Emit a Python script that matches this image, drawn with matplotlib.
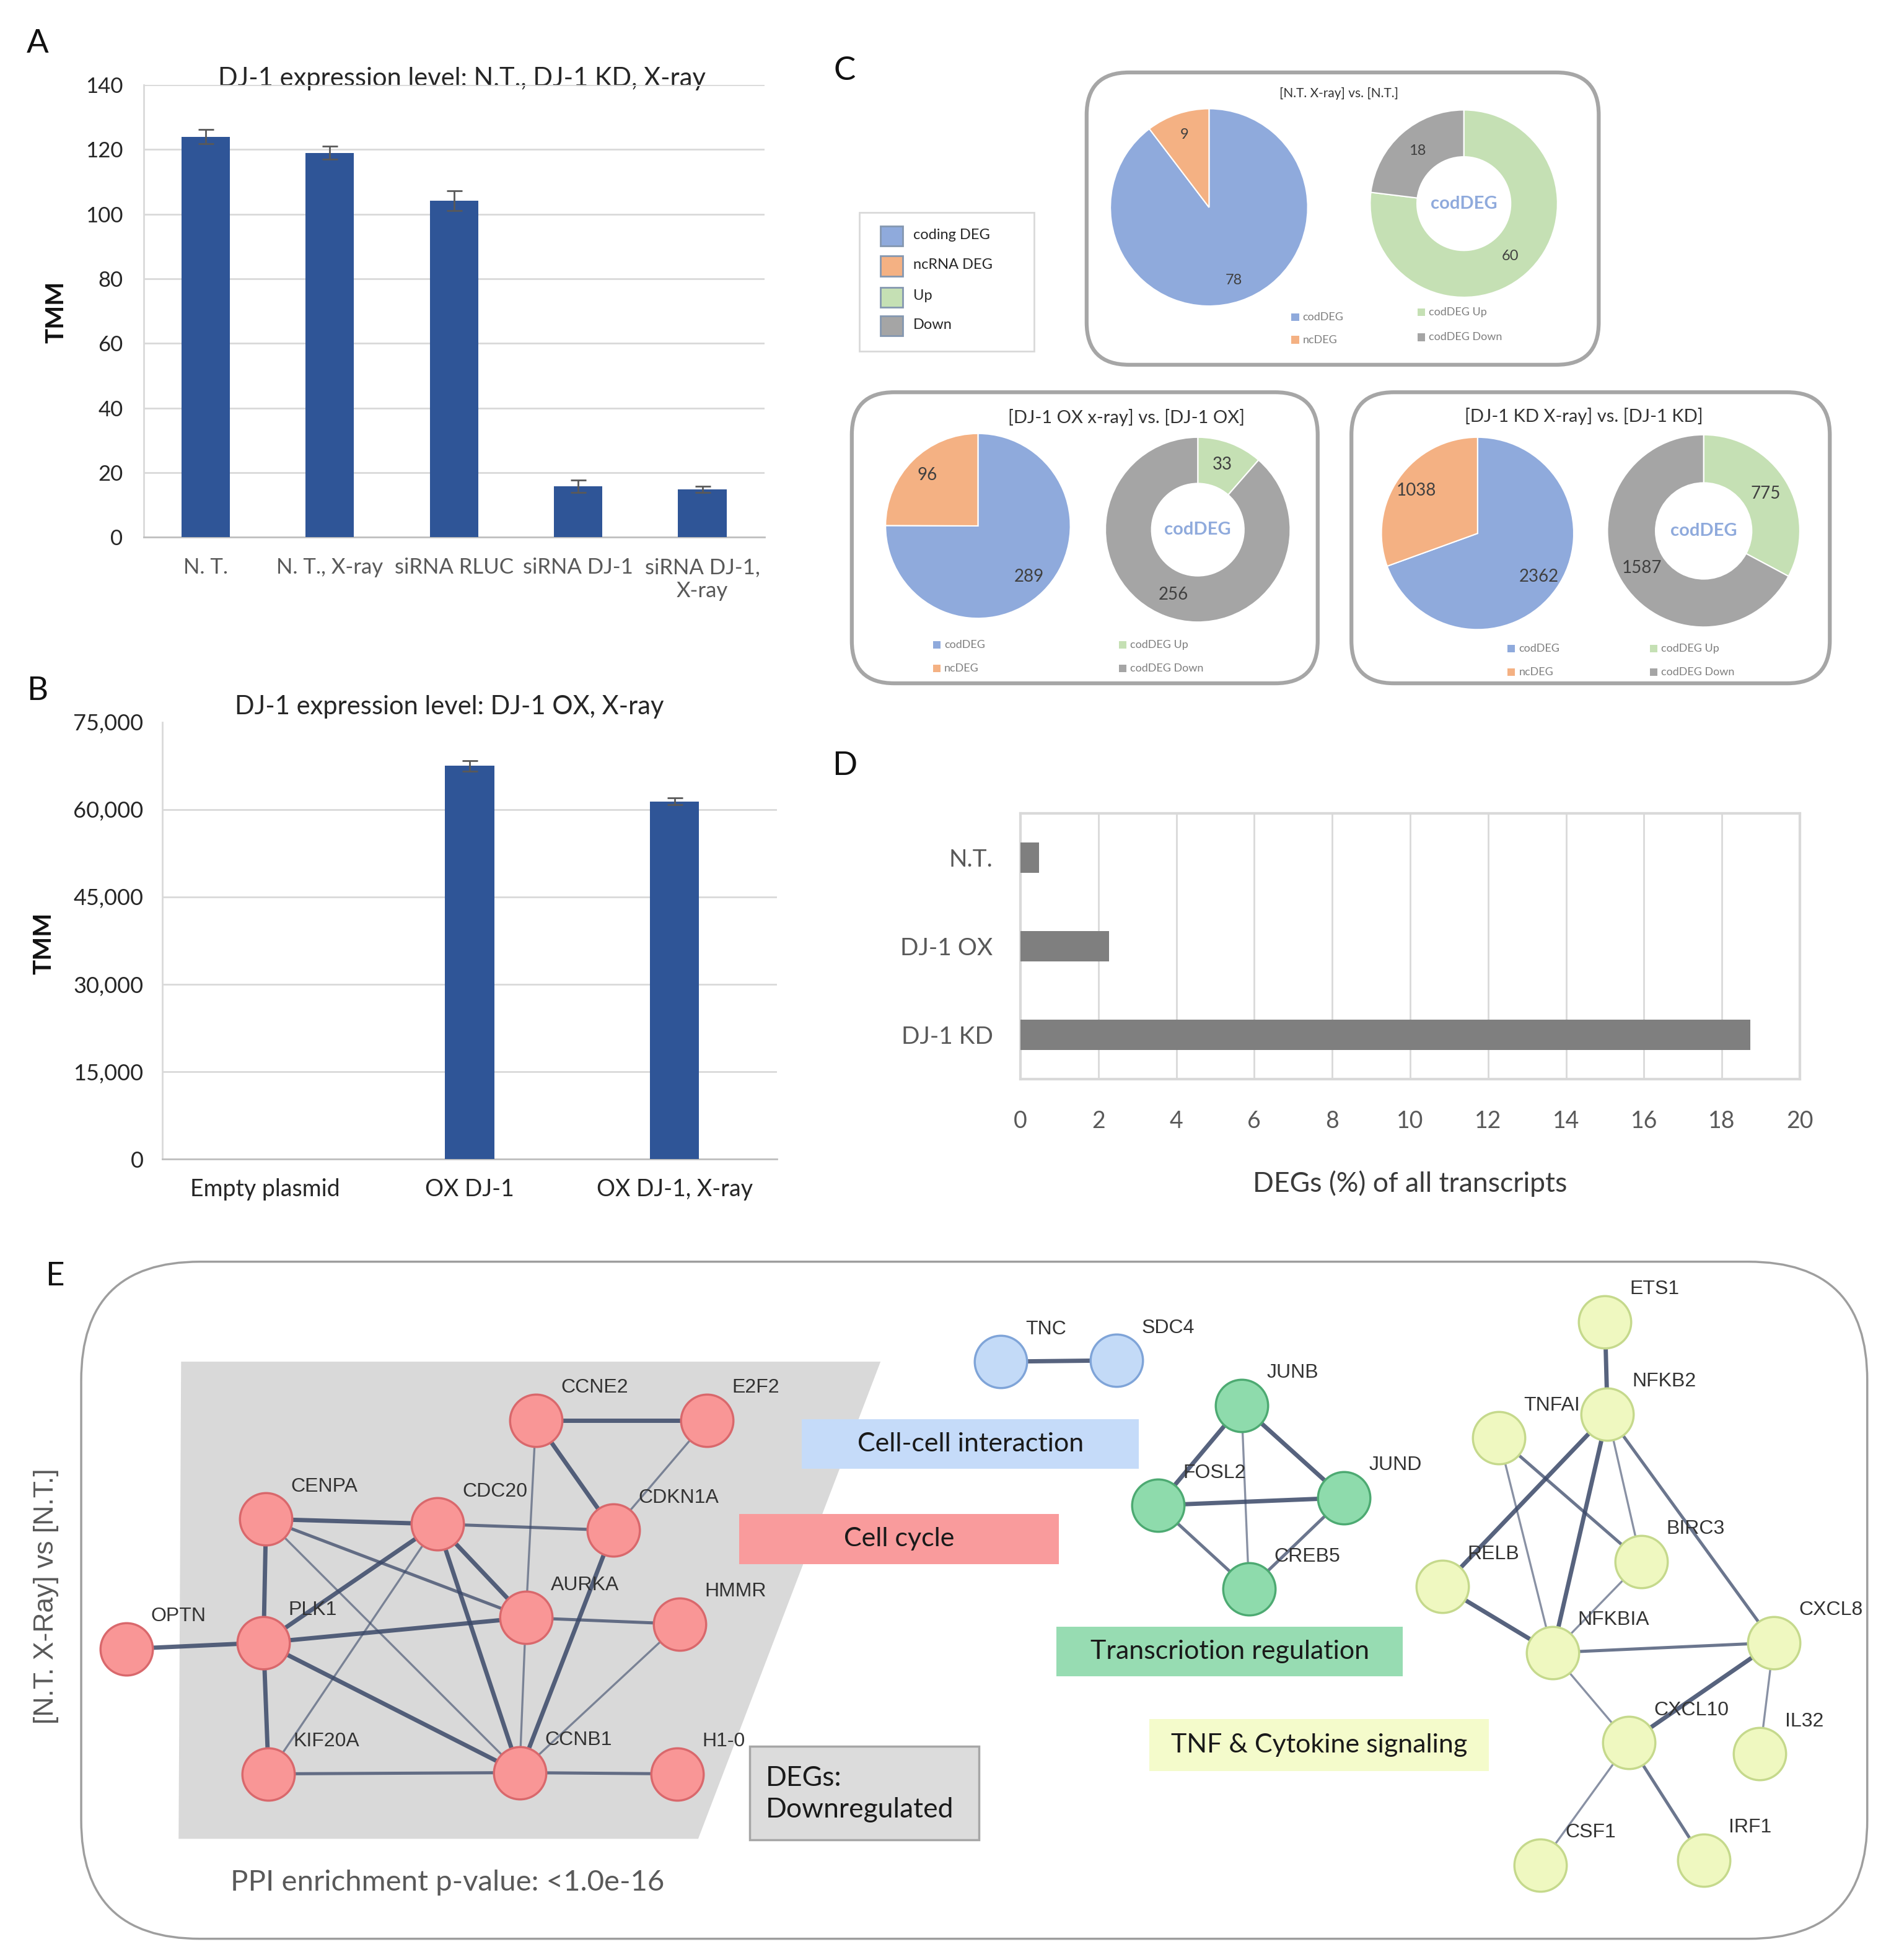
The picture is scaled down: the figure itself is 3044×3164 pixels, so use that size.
import numpy as np
import matplotlib
matplotlib.use('Agg')
import matplotlib.pyplot as plt
from matplotlib.patches import FancyBboxPatch, Rectangle, Polygon

plt.rcParams['font.family'] = ['Lato', 'DejaVu Sans']

# ---- panel A: DJ-1 TMM, knock-down
a_groups = ['N. T.', 'N. T., X-ray', 'siRNA RLUC', 'siRNA DJ-1', 'siRNA DJ-1,\nX-ray']
a_tmm = [124.0, 119.0, 104.2, 15.7, 14.8]
a_err = [2.2, 2.0, 3.1, 1.9, 0.9]

# ---- panel B: DJ-1 TMM, over-expression
b_groups = ['Empty plasmid', 'OX DJ-1', 'OX DJ-1, X-ray']
b_tmm = [0, 67500, 61400]
b_err = [0, 900, 600]

# ---- panel C: DEG counts per comparison
c_titles = ['[N.T. X-ray] vs. [N.T.]', '[DJ-1 OX x-ray] vs. [DJ-1 OX]', '[DJ-1 KD X-ray] vs. [DJ-1 KD]']
c_coding = [78, 289, 2362]
c_ncrna = [9, 96, 1038]
c_up = [60, 33, 775]
c_down = [18, 256, 1587]

# ---- panel D: DEGs as % of all transcripts
d_groups = ['N.T.', 'DJ-1 OX', 'DJ-1 KD']
d_pct = [0.47, 2.27, 18.73]

# ---- panel E: STRING network (layout in page units)
e_genes = ['OPTN', 'PLK1', 'CENPA', 'CDC20', 'CCNE2', 'E2F2', 'CDKN1A', 'AURKA', 'HMMR',
           'KIF20A', 'CCNB1', 'H1-0',
           'TNC', 'SDC4',
           'JUNB', 'FOSL2', 'JUND', 'CREB5',
           'ETS1', 'NFKB2', 'TNFAI', 'BIRC3', 'RELB', 'NFKBIA', 'CXCL8', 'CXCL10', 'IL32', 'CSF1', 'IRF1']
e_x = [101, 211, 213, 350, 429, 566, 491, 421, 544, 215, 416, 542,
       801, 894,
       994, 927, 1076, 1000,
       1285, 1287, 1200, 1314, 1155, 1243, 1420, 1304, 1409, 1233, 1364]
e_y = [1320, 1315, 1216, 1220, 1137, 1137, 1225, 1295, 1300, 1420, 1419, 1420,
       1090, 1089,
       1125, 1205, 1199, 1272,
       1058, 1132, 1151, 1250, 1270, 1323, 1315, 1395, 1404, 1493, 1489]
e_group = ['cycle'] * 12 + ['cell'] * 2 + ['tf'] * 4 + ['tnf'] * 11
e_edges = [('OPTN', 'PLK1', 3), ('PLK1', 'CENPA', 3), ('PLK1', 'KIF20A', 3), ('PLK1', 'CDC20', 3),
           ('PLK1', 'AURKA', 3), ('PLK1', 'CCNB1', 3), ('CENPA', 'CDC20', 3), ('CENPA', 'AURKA', 2),
           ('CENPA', 'CCNB1', 1), ('CDC20', 'CDKN1A', 2), ('CDC20', 'AURKA', 3), ('CDC20', 'CCNB1', 3),
           ('CDC20', 'KIF20A', 1), ('CCNE2', 'E2F2', 3), ('CCNE2', 'CDKN1A', 3), ('CCNE2', 'AURKA', 1),
           ('E2F2', 'CDKN1A', 1), ('CDKN1A', 'CCNB1', 3), ('AURKA', 'HMMR', 2), ('AURKA', 'CCNB1', 1),
           ('HMMR', 'CCNB1', 1), ('KIF20A', 'CCNB1', 2), ('CCNB1', 'H1-0', 2),
           ('TNC', 'SDC4', 3),
           ('JUNB', 'FOSL2', 3), ('JUNB', 'JUND', 3), ('JUNB', 'CREB5', 1), ('FOSL2', 'JUND', 3),
           ('FOSL2', 'CREB5', 2), ('JUND', 'CREB5', 2),
           ('ETS1', 'NFKB2', 3), ('NFKB2', 'RELB', 3), ('NFKB2', 'NFKBIA', 3), ('NFKB2', 'BIRC3', 1),
           ('NFKB2', 'CXCL8', 2), ('TNFAI', 'BIRC3', 2), ('TNFAI', 'NFKBIA', 1), ('RELB', 'NFKBIA', 3),
           ('BIRC3', 'NFKBIA', 1), ('NFKBIA', 'CXCL8', 2), ('NFKBIA', 'CXCL10', 1), ('CXCL8', 'CXCL10', 3),
           ('CXCL8', 'IL32', 1), ('CXCL10', 'CSF1', 1), ('CXCL10', 'IRF1', 2)]
e_modules = ['Cell-cell interaction', 'Cell cycle', 'Transcriotion regulation', 'TNF & Cytokine signaling']

BLUE = '#2F5597'
PIE_COLORS = ['#8FAADC', '#F4B183']
RING_COLORS = ['#C5E0B4', '#A5A5A5']
NODE_FACE = {'cycle': '#F99696', 'cell': '#C3DAF7', 'tf': '#8EDBAC', 'tnf': '#EFF8C0'}
NODE_EDGE = {'cycle': '#D9686C', 'cell': '#7FA4D8', 'tf': '#4DAA72', 'tnf': '#C5D98C'}

W, H = 1510.0, 1569.0


def box(x0, y0, x1, y1):
    # page units (top-left origin) -> figure fraction rect
    return [x0 / W, 1 - y1 / H, (x1 - x0) / W, (y1 - y0) / H]


def excel_axes(ax):
    for s in ['top', 'right']:
        ax.spines[s].set_visible(False)
    ax.spines['left'].set_color('#D9D9D9')
    ax.spines['left'].set_linewidth(2)
    ax.spines['bottom'].set_color('#BFBFBF')
    ax.spines['bottom'].set_linewidth(2)


fig = plt.figure(figsize=(30.44, 31.64), dpi=100)
bg = fig.add_axes([0, 0, 1, 1])
bg.set_xlim(0, W)
bg.set_ylim(H, 0)
bg.axis('off')

for lab, (lx, ly) in zip('ABCDE', [(30, 35), (30, 553), (676, 57), (676, 613), (44, 1022)]):
    bg.text(lx, ly, lab, fontsize=38, ha='center', va='center', color='#111111')

# ---------------- A
ax = fig.add_axes(box(115, 68, 612, 430))
ax.set_facecolor('none')
xa = np.arange(len(a_groups))
ax.bar(xa, a_tmm, width=0.39, color=BLUE, zorder=3)
ax.errorbar(xa, a_tmm, yerr=a_err, fmt='none', ecolor='#595959', elinewidth=2, capsize=9,
            capthick=2, zorder=4)
ax.set_xlim(-0.5, len(a_groups) - 0.5)
ax.set_ylim(0, 140)
ax.set_yticks(range(0, 141, 20))
ax.yaxis.grid(True, color='#D9D9D9', lw=2)
ax.set_axisbelow(True)
ax.set_xticks(xa, a_groups)
ax.tick_params(axis='x', length=0, labelsize=25, pad=24, labelcolor='#595959')
ax.tick_params(axis='y', length=0, labelsize=25, pad=24, labelcolor='#262626')
excel_axes(ax)
bg.text(370, 63, 'DJ-1 expression level: N.T., DJ-1 KD, X-ray', fontsize=30, ha='center', va='center',
        color='#262626')
bg.text(45, 250, 'TMM', fontsize=29, rotation=90, ha='center', va='center', color='#111111', fontweight='bold')

# ---------------- B
ax = fig.add_axes(box(130, 578, 622, 928))
ax.set_facecolor('none')
xb = np.arange(len(b_groups))
ax.bar(xb, b_tmm, width=0.24, color=BLUE, zorder=3)
keep = [i for i in xb if b_tmm[i] > 0]
ax.errorbar([xb[i] for i in keep], [b_tmm[i] for i in keep], yerr=[b_err[i] for i in keep], fmt='none',
            ecolor='#595959', elinewidth=2, capsize=9, capthick=2, zorder=4)
ax.set_xlim(-0.5, len(b_groups) - 0.5)
ax.set_ylim(0, 75000)
ax.set_yticks(range(0, 75001, 15000), [f'{v:,}' for v in range(0, 75001, 15000)])
ax.yaxis.grid(True, color='#D9D9D9', lw=2)
ax.get_ygridlines()[-1].set_visible(False)
ax.set_axisbelow(True)
ax.set_xticks(xb, b_groups)
ax.tick_params(axis='x', length=0, labelsize=27, pad=22, labelcolor='#262626')
ax.tick_params(axis='y', length=0, labelsize=26, pad=22, labelcolor='#262626')
excel_axes(ax)
bg.text(360, 566, 'DJ-1 expression level: DJ-1 OX, X-ray', fontsize=30, ha='center', va='center', color='#262626')
bg.text(35, 755, 'TMM', fontsize=29, rotation=90, ha='center', va='center', color='#111111', fontweight='bold')

# ---------------- C
# shared legend
bg.add_patch(Rectangle((688, 170), 140, 111, fc='white', ec='#D9D9D9', lw=2))
for lab, col, yy in zip(['coding DEG', 'ncRNA DEG', 'Up', 'Down'],
                        PIE_COLORS + RING_COLORS, [189, 213, 238, 261]):
    bg.add_patch(Rectangle((705, yy - 8), 18, 16, fc=col, ec='#8497B0', lw=2))
    bg.text(731, yy - 1, lab, fontsize=17, va='center', color='#262626')

c_frames = [(870, 58, 1280, 292), (682, 314, 1055, 547), (1082, 314, 1465, 547)]
c_title_pos = [(1072, 75, 15), (902, 334, 21), (1268, 333, 21)]
c_pie = [(968, 166, 79), (783, 421, 74), (1183, 427, 77)]
c_ring = [(1172, 163, 75), (959, 424, 74), (1364, 425, 77)]
c_leg = [(1037, 1138, 254, 272), (750, 899, 516, 535), (1210, 1324, 519, 538)]
c_valsize = [17, 20, 20]

for i in range(3):
    x0, y0, x1, y1 = c_frames[i]
    bg.add_patch(FancyBboxPatch((x0, y0), x1 - x0, y1 - y0, boxstyle='round,pad=0,rounding_size=34',
                                fc='white', ec='#A6A6A6', lw=4.5))
    tx, ty, ts = c_title_pos[i]
    bg.text(tx, ty, c_titles[i], fontsize=ts, ha='center', va='center', color='#333333')

    cx, cy, r = c_pie[i]
    pax = fig.add_axes(box(cx - r, cy - r, cx + r, cy + r))
    pax.pie([c_coding[i], c_ncrna[i]], colors=PIE_COLORS, startangle=90, counterclock=False,
            labels=[str(c_coding[i]), str(c_ncrna[i])], labeldistance=0.78,
            wedgeprops=dict(edgecolor='white', linewidth=1.5),
            textprops=dict(fontsize=c_valsize[i], color='#404040', ha='center', va='center'))
    pax.set_xlim(-1, 1)
    pax.set_ylim(-1, 1)

    cx, cy, r = c_ring[i]
    rax = fig.add_axes(box(cx - r, cy - r, cx + r, cy + r))
    rax.pie([c_up[i], c_down[i]], colors=RING_COLORS, startangle=90, counterclock=False,
            labels=[str(c_up[i]), str(c_down[i])], labeldistance=0.75,
            wedgeprops=dict(width=0.5, edgecolor='white', linewidth=1.5),
            textprops=dict(fontsize=c_valsize[i], color='#404040', ha='center', va='center'))
    rax.text(0, 0, 'codDEG', fontsize=21, fontweight='bold', color='#8FAADC', ha='center', va='center')
    rax.set_xlim(-1, 1)
    rax.set_ylim(-1, 1)

    lx1, lx2, ly1, ly2 = c_leg[i]
    for mx, my, lab, col in [(lx1, ly1, 'codDEG', PIE_COLORS[0]), (lx1, ly2, 'ncDEG', PIE_COLORS[1]),
                             (lx2, ly1 - 4 if i == 0 else ly1, 'codDEG Up', RING_COLORS[0]),
                             (lx2, ly2 - 2 if i == 0 else ly2, 'codDEG Down', RING_COLORS[1])]:
        bg.add_patch(Rectangle((mx - 3, my - 3), 6, 6, fc=col, ec='none'))
        bg.text(mx + 6, my, lab, fontsize=13, va='center', color='#7F7F7F')

# ---------------- D
ax = fig.add_axes(box(817, 651, 1441, 864))
ax.set_facecolor('none')
yd = np.arange(len(d_groups))
ax.barh(yd, d_pct, height=0.34, color='#7F7F7F', zorder=3)
ax.set_ylim(len(d_groups) - 0.5, -0.5)
ax.set_xlim(0, 20)
ax.set_xticks(range(0, 21, 2))
ax.set_yticks(yd, d_groups)
ax.xaxis.grid(True, color='#D9D9D9', lw=2)
ax.set_axisbelow(True)
ax.tick_params(axis='x', length=0, labelsize=27, pad=36, labelcolor='#595959')
ax.tick_params(axis='y', length=0, labelsize=28, pad=32, labelcolor='#595959')
for s in ax.spines.values():
    s.set_color('#D9D9D9')
    s.set_linewidth(3)
ax.set_xlabel('DEGs (%) of all transcripts', fontsize=32, color='#3A3A3A', labelpad=44)

# ---------------- E
bg.add_patch(FancyBboxPatch((65, 1010), 1430, 542, boxstyle='round,pad=0,rounding_size=95',
                            fc='white', ec='#9E9E9E', lw=2.5))
bg.text(37, 1278, '[N.T. X-Ray] vs [N.T.]', fontsize=32, rotation=90, ha='center', va='center',
        color='#595959', family='Liberation Sans')
bg.add_patch(Polygon([(145, 1090), (705, 1090), (559, 1472), (143, 1472)], closed=True,
                     fc='#D9D9D9', ec='none'))

pos = {g: (x, y) for g, x, y in zip(e_genes, e_x, e_y)}
for g1, g2, w in e_edges:
    (x1, y1), (x2, y2) = pos[g1], pos[g2]
    bg.plot([x1, x2], [y1, y2], color='#3A4868', lw={1: 2.4, 2: 3.6, 3: 5.0}[w],
            alpha={1: 0.6, 2: 0.75, 3: 0.85}[w], solid_capstyle='round', zorder=3)

for grp in ['cycle', 'cell', 'tf', 'tnf']:
    idx = [i for i, g in enumerate(e_group) if g == grp]
    bg.scatter([e_x[i] for i in idx], [e_y[i] for i in idx], s=3700, c=NODE_FACE[grp],
               edgecolors=NODE_EDGE[grp], linewidths=2.5, zorder=4)
for g, x, y in zip(e_genes, e_x, e_y):
    bg.text(x + 20, y - 26, g, fontsize=23, va='center', ha='left', color='#333333',
            family='Liberation Sans', zorder=5)

# module tags
e_tag_boxes = [(642, 1136, 912, 1176, '#C5DBF9'), (592, 1212, 848, 1252, '#F99B9C'),
               (846, 1302, 1123, 1342, '#97DCB2'), (920, 1376, 1192, 1418, '#F4FBCB')]
for name, (x0, y0, x1, y1, col) in zip(e_modules, e_tag_boxes):
    bg.add_patch(Rectangle((x0, y0), x1 - x0, y1 - y0, fc=col, ec='none', zorder=2))
    bg.text((x0 + x1) / 2, (y0 + y1) / 2, name, fontsize=31, ha='center', va='center',
            color='#1A1A1A', zorder=3)

bg.add_patch(Rectangle((600, 1398), 184, 75, fc='#DCDCDC', ec='#A6A6A6', lw=2.5, zorder=2))
bg.text(613, 1436, 'DEGs:\nDownregulated', fontsize=32, ha='left', va='center', color='#1A1A1A',
        linespacing=1.3, zorder=3)
bg.text(358, 1507, 'PPI enrichment p-value: <1.0e-16', fontsize=34, ha='center', va='center',
        color='#595959')

fig.savefig('out.png', dpi=100, facecolor='white')
